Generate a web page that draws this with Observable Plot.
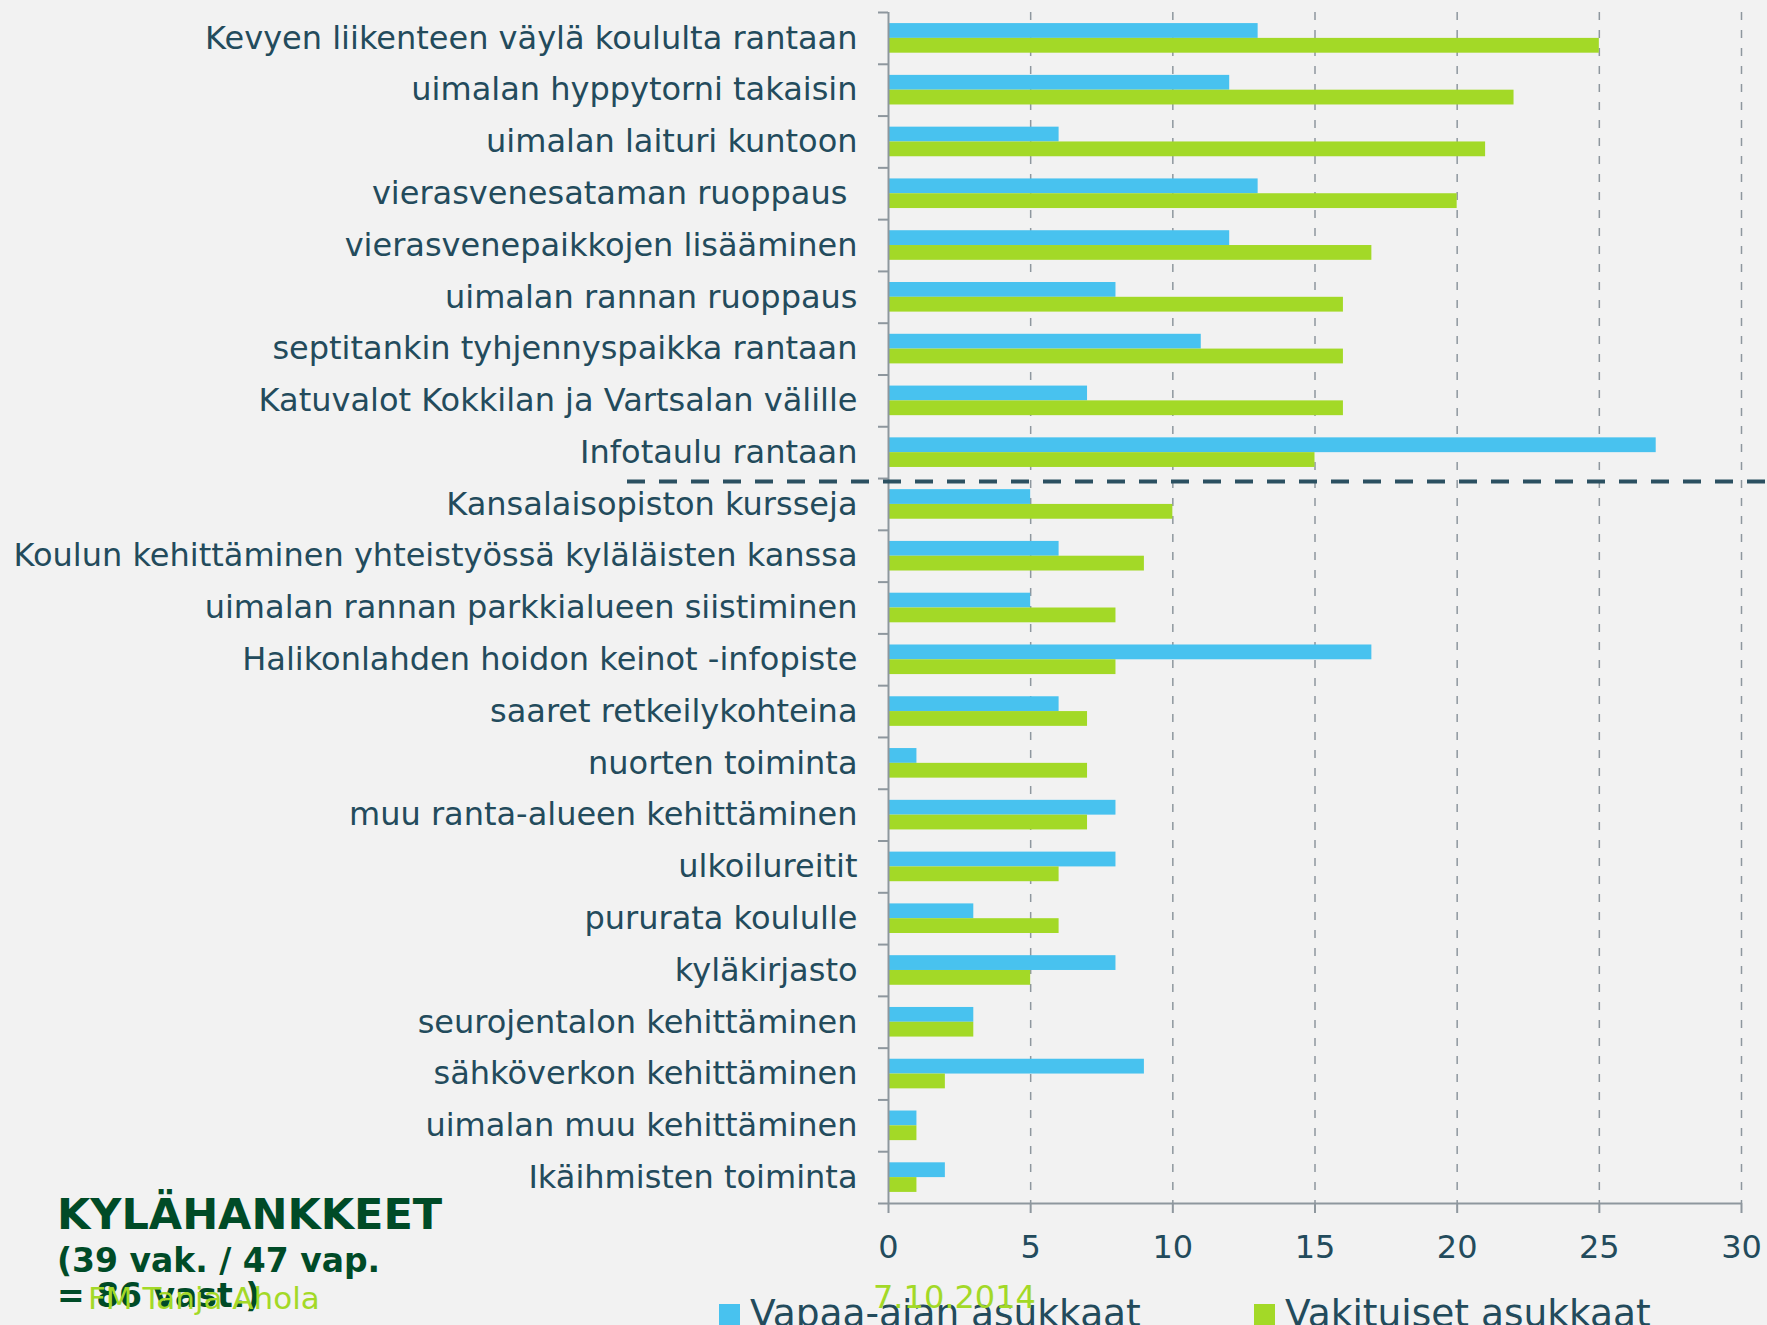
<!DOCTYPE html>
<html>
<head>
<meta charset="utf-8">
<script src="https://cdn.jsdelivr.net/npm/d3@7"></script>
<script src="https://cdn.jsdelivr.net/npm/@observablehq/plot@0.6"></script>
<style>
  html, body { margin: 0; padding: 0; background: #f2f2f2; overflow: hidden; }
  #wrap { position: relative; width: 1767px; height: 1325px; overflow: hidden; background: #f2f2f2; }
  #wrap svg text { white-space: pre; }
  .lbl { position: absolute; white-space: pre; font-family: "DejaVu Sans", sans-serif; }
  .sw { position: absolute; width: 21px; height: 21px; }
</style>
</head>
<body>
<div id="wrap"></div>
<script>
// ---- data ----
const categories = [
  "Kevyen liikenteen väylä koululta rantaan",
  "uimalan hyppytorni takaisin",
  "uimalan laituri kuntoon",
  "vierasvenesataman ruoppaus ",
  "vierasvenepaikkojen lisääminen",
  "uimalan rannan ruoppaus",
  "septitankin tyhjennyspaikka rantaan",
  "Katuvalot Kokkilan ja Vartsalan välille",
  "Infotaulu rantaan",
  "Kansalaisopiston kursseja",
  "Koulun kehittäminen yhteistyössä kyläläisten kanssa",
  "uimalan rannan parkkialueen siistiminen",
  "Halikonlahden hoidon keinot -infopiste",
  "saaret retkeilykohteina",
  "nuorten toiminta",
  "muu ranta-alueen kehittäminen",
  "ulkoilureitit",
  "pururata koululle",
  "kyläkirjasto",
  "seurojentalon kehittäminen",
  "sähköverkon kehittäminen",
  "uimalan muu kehittäminen",
  "Ikäihmisten toiminta"
];
const vapaaAjan = [13, 12, 6, 13, 12, 8, 11, 7, 27, 5, 6, 5, 17, 6, 1, 8, 8, 3, 8, 3, 9, 1, 2];
const vakituiset = [25, 22, 21, 20, 17, 16, 16, 16, 15, 10, 9, 8, 8, 7, 7, 7, 6, 6, 5, 3, 2, 1, 1];
const xTicks = [0, 5, 10, 15, 20, 25, 30];
const seriesNames = ["Vapaa-ajan asukkaat", "Vakituiset asukkaat"];
const separatorBefore = "Kansalaisopiston kursseja";
const titleText = "KYLÄHANKKEET";
const subtitleLines = ["(39 vak. / 47 vap.", "= 86 vast.)"];
const authorText = "FM Tanja Ahola";
const dateText = "7.10.2014";

// ---- styles ----
const BLUE = "#48c2ef", GREEN = "#a3d927", TEXT = "#234b5c", GRAY = "#8e979e";
const W = 1767, H = 1325, mt = 12, mb = 122, ml = 888, mr = 26;
const bw = (H - mt - mb) / categories.length;
const half = bw / 2, barH = 14.8;
const pxPerUnit = (W - ml - mr) / 30;

const rows = categories.map((c, i) => ({cat: c, vapaa: vapaaAjan[i], vak: vakituiset[i]}));
const lastCat = categories[categories.length - 1];

const plot = Plot.plot({
  width: W, height: H,
  marginLeft: ml, marginRight: mr, marginTop: mt, marginBottom: mb,
  style: {background: "#f2f2f2", fontFamily: "DejaVu Sans", fontSize: "32px", color: TEXT, overflow: "visible"},
  x: {domain: [0, 30]},
  y: {type: "band", domain: categories, padding: 0, round: false},
  marks: [
    Plot.gridX(xTicks.filter(d => d > 0), {stroke: GRAY, strokeOpacity: 1, strokeWidth: 1.5, strokeDasharray: "8,10"}),
    Plot.barX(rows, {y: "cat", x: "vapaa", fill: BLUE, insetTop: half - barH, insetBottom: half}),
    Plot.barX(rows, {y: "cat", x: "vak", fill: GREEN, insetTop: half, insetBottom: half - barH}),
    Plot.ruleX([0], {stroke: GRAY, strokeWidth: 2}),
    Plot.ruleY([lastCat], {y: d => d, dy: half, x1: 0, x2: 30, stroke: GRAY, strokeWidth: 2}),
    Plot.ruleY(categories, {y: d => d, dy: -half, x1: -10 / pxPerUnit, x2: 0, stroke: GRAY, strokeWidth: 2}),
    Plot.ruleY([lastCat], {y: d => d, dy: half, x1: -10 / pxPerUnit, x2: 0, stroke: GRAY, strokeWidth: 2}),
    Plot.ruleY([separatorBefore], {y: d => d, dy: -half + 3, x1: -(ml - 627) / pxPerUnit, x2: 30 + (mr + 5) / pxPerUnit,
      stroke: "#2b5061", strokeWidth: 4, strokeDasharray: "18,14"}),
    Plot.axisX({ticks: xTicks, tickSize: 10, tickPadding: 22, stroke: GRAY, strokeWidth: 2, fill: TEXT, label: null, tickFormat: d => String(d)}),
    Plot.axisY({tickSize: 0, tickPadding: 31, fill: TEXT, label: null})
  ]
});
const wrap = document.getElementById("wrap");
plot.style.position = "absolute";
plot.style.left = "0px";
plot.style.top = "0px";
wrap.appendChild(plot);

// ---- overlay texts (title, caption, legend) ----
function place(text, x, baseline, fs, weight, color) {
  const d = document.createElement("div");
  d.className = "lbl";
  d.textContent = text;
  d.style.left = x + "px";
  d.style.top = (baseline - 0.846 * fs) + "px";
  d.style.fontSize = fs + "px";
  d.style.lineHeight = fs + "px";
  d.style.fontWeight = weight;
  d.style.color = color;
  wrap.appendChild(d);
}
function swatch(x, y, color) {
  const s = document.createElement("div");
  s.className = "sw";
  s.style.left = x + "px";
  s.style.top = y + "px";
  s.style.background = color;
  wrap.appendChild(s);
}
place(titleText, 57, 1229, 43, "bold", "#004b27");
place(subtitleLines[0], 57, 1272, 33, "bold", "#004b27");
place(subtitleLines[1], 57, 1307, 33, "bold", "#004b27");
place(authorText, 88, 1309, 31, "normal", GREEN);
swatch(719, 1304, BLUE);
place(seriesNames[0], 750, 1327, 37.5, "normal", TEXT);
swatch(1254, 1304, GREEN);
place(seriesNames[1], 1285, 1327, 37.5, "normal", TEXT);
place(dateText, 873, 1308, 32, "normal", GREEN);
</script>
</body>
</html>
